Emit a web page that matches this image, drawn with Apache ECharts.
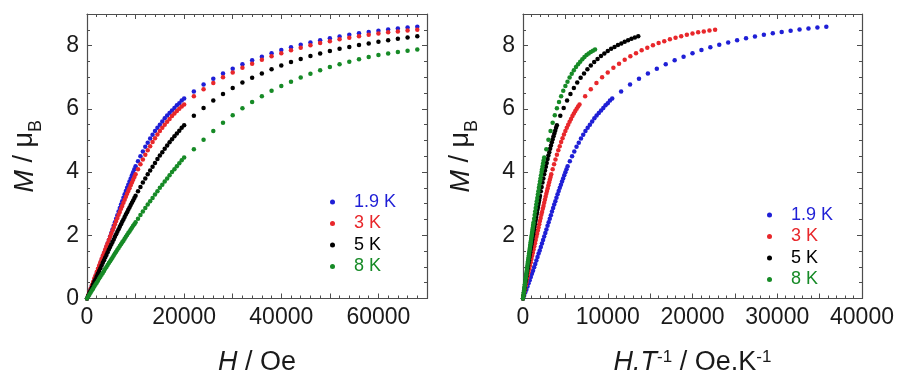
<!DOCTYPE html>
<html>
<head>
<meta charset="utf-8">
<script src="https://cdn.jsdelivr.net/npm/echarts@6/dist/echarts.min.js"></script>
<style>
html,body{margin:0;padding:0;background:#fff;}
#chart{width:899px;height:381px;}
</style>
</head>
<body>
<div id="chart"></div>
<script>
// Applied field H (Oe)
const hField = [0,250,500,750,1000,1250,1500,1750,2000,2250,2500,2750,3000,3250,3500,3750,4000,4250,4500,4750,5000,5250,5500,5750,6000,6250,6500,6750,7000,7250,7500,7750,8000,8250,8500,8750,9000,9250,9500,9750,10000,
  10500,11000,11500,12000,12500,13000,13500,14000,14500,15000,15500,16000,16500,17000,17500,18000,18500,19000,19500,20000,
  22000,24000,26000,28000,30000,32000,34000,36000,38000,40000,42000,44000,46000,48000,50000,52000,54000,56000,58000,60000,62000,64000,66000,68000];

const temperatures = [1.9, 3, 5, 8];
const seriesNames = ['1.9 K', '3 K', '5 K', '8 K'];
const seriesColors = ['#1f1fd6', '#e8272b', '#000000', '#168a26'];

// Magnetization M (μB)
const m19 = [0,0.09,0.19,0.28,0.38,0.48,0.58,0.68,0.78,0.88,0.99,1.09,1.2,1.31,1.42,1.52,1.63,1.74,1.85,1.96,2.07,2.18,2.3,2.41,2.52,2.63,2.75,2.86,2.97,3.08,3.19,3.3,3.4,3.5,3.6,3.7,3.8,3.9,3.99,4.09,4.18,
  4.34,4.5,4.65,4.8,4.93,5.06,5.18,5.3,5.4,5.5,5.6,5.7,5.79,5.87,5.95,6.03,6.11,6.18,6.26,6.33,
  6.55,6.77,6.95,7.12,7.27,7.41,7.54,7.65,7.76,7.86,7.95,8.03,8.10,8.17,8.23,8.29,8.34,8.39,8.43,8.47,8.51,8.54,8.57,8.60];
const m3 = [0,0.1,0.21,0.31,0.42,0.52,0.63,0.73,0.84,0.94,1.04,1.15,1.25,1.35,1.45,1.55,1.65,1.75,1.85,1.95,2.05,2.15,2.25,2.35,2.45,2.55,2.65,2.74,2.84,2.93,3.03,3.12,3.22,3.31,3.4,3.49,3.58,3.67,3.76,3.84,3.93,
  4.09,4.25,4.4,4.55,4.69,4.82,4.95,5.07,5.19,5.3,5.4,5.5,5.59,5.68,5.77,5.85,5.93,6.0,6.07,6.14,
  6.40,6.62,6.82,7.00,7.15,7.30,7.43,7.55,7.66,7.76,7.85,7.93,8.01,8.08,8.14,8.20,8.25,8.30,8.34,8.38,8.42,8.45,8.48,8.50];
const m5 = [0,0.09,0.18,0.26,0.35,0.44,0.53,0.61,0.7,0.79,0.87,0.96,1.04,1.13,1.21,1.3,1.38,1.46,1.55,1.63,1.71,1.79,1.87,1.95,2.03,2.11,2.19,2.27,2.35,2.43,2.5,2.58,2.66,2.73,2.81,2.88,2.96,3.03,3.1,3.18,3.25,
  3.39,3.53,3.67,3.8,3.93,4.05,4.17,4.29,4.41,4.52,4.63,4.74,4.84,4.94,5.04,5.13,5.22,5.31,5.4,5.48,
  5.78,6.03,6.26,6.47,6.66,6.83,6.98,7.12,7.25,7.37,7.48,7.58,7.67,7.75,7.83,7.90,7.96,8.02,8.07,8.12,8.17,8.22,8.26,8.30];
const m8 = [0,0.06,0.13,0.19,0.25,0.31,0.38,0.44,0.5,0.56,0.63,0.69,0.75,0.81,0.87,0.94,1.0,1.06,1.12,1.18,1.24,1.3,1.36,1.42,1.48,1.54,1.6,1.66,1.72,1.78,1.83,1.89,1.95,2.01,2.07,2.12,2.18,2.24,2.3,2.35,2.41,
  2.52,2.64,2.75,2.86,2.97,3.08,3.18,3.29,3.39,3.5,3.6,3.7,3.8,3.9,4.0,4.09,4.18,4.28,4.37,4.46,
  4.72,5.02,5.30,5.56,5.80,6.02,6.22,6.40,6.57,6.72,6.86,6.99,7.11,7.22,7.32,7.41,7.49,7.57,7.64,7.70,7.75,7.80,7.84,7.88];

const mSets = [m19, m3, m5, m8];

// Axis ranges / tick labels
const leftXTicks = [0, 20000, 40000, 60000];
const rightXTicks = [0, 10000, 20000, 30000, 40000];
const leftYTicks = [0, 2, 4, 6, 8];
const rightYTicks = [2, 4, 6, 8];

const FONT = '"Liberation Sans", Arial, sans-serif';
const AX = '#4d4d4d';
const TXT = '#1a1a1a';

function xAxisCfg(grid, max, interval, labels, top) {
  return {
    type: 'value', gridIndex: grid, position: top ? 'top' : 'bottom',
    min: 0, max: max, interval: interval,
    axisLine: { show: true, onZero: false, lineStyle: { color: AX, width: 1.2 } },
    axisTick: { show: true, inside: true, length: 5, lineStyle: { color: AX } },
    minorTick: { show: true, splitNumber: 5, length: 3, lineStyle: { color: AX } },
    splitLine: { show: false }, minorSplitLine: { show: false },
    axisLabel: {
      show: !top, margin: 8, fontFamily: FONT, fontSize: 23, color: TXT,
      showMaxLabel: true, showMinLabel: true,
      formatter: v => labels.indexOf(v) >= 0 ? String(v) : ''
    }
  };
}
function yAxisCfg(grid, labels, right) {
  return {
    type: 'value', gridIndex: grid, position: right ? 'right' : 'left',
    min: 0, max: 9, interval: 2,
    axisLine: { show: true, onZero: false, lineStyle: { color: AX, width: 1.2 } },
    axisTick: { show: true, inside: true, length: 5, lineStyle: { color: AX } },
    minorTick: { show: true, splitNumber: 4, length: 3, lineStyle: { color: AX } },
    splitLine: { show: false }, minorSplitLine: { show: false },
    axisLabel: {
      show: !right, margin: 8, fontFamily: FONT, fontSize: 23, color: TXT,
      formatter: v => labels.indexOf(v) >= 0 ? String(v) : ''
    }
  };
}

const nameRich = {
  i: { fontFamily: FONT, fontSize: 27, fontStyle: 'italic', color: TXT, lineHeight: 40, verticalAlign: 'middle' },
  n: { fontFamily: FONT, fontSize: 27, color: TXT, lineHeight: 40, verticalAlign: 'middle' },
  s: { fontFamily: FONT, fontSize: 18, color: TXT, lineHeight: 40, verticalAlign: 'bottom' },
  p: { fontFamily: FONT, fontSize: 17, color: TXT, lineHeight: 40, verticalAlign: 'top', padding: [6, 0, 0, 0] }
};

const xAxes = [
  Object.assign(xAxisCfg(0, 70000, 10000, leftXTicks, false), {
    name: '{i|H}{n| / Oe}', nameLocation: 'middle', nameGap: 44,
    nameTextStyle: { rich: nameRich }
  }),
  xAxisCfg(0, 70000, 10000, [], true),
  Object.assign(xAxisCfg(1, 40000, 5000, rightXTicks, false), {
    name: '{i|H.T}{p|-1}{n| / Oe.K}{p|-1}', nameLocation: 'middle', nameGap: 44,
    nameTextStyle: { rich: nameRich }
  }),
  xAxisCfg(1, 40000, 5000, [], true)
];
const yAxes = [
  Object.assign(yAxisCfg(0, leftYTicks, false), {
    name: '{i|M}{n| / μ}{s|B}', nameLocation: 'middle', nameGap: 42, nameRotate: 90,
    nameTextStyle: { rich: nameRich }
  }),
  yAxisCfg(0, [], true),
  Object.assign(yAxisCfg(1, rightYTicks, false), {
    name: '{i|M}{n| / μ}{s|B}', nameLocation: 'middle', nameGap: 42, nameRotate: 90,
    nameTextStyle: { rich: nameRich }
  }),
  yAxisCfg(1, [], true)
];

const series = [];
mSets.forEach((m, k) => {
  series.push({
    type: 'scatter', name: seriesNames[k], xAxisIndex: 0, yAxisIndex: 0,
    symbol: 'circle', symbolSize: 4.5, itemStyle: { color: seriesColors[k], opacity: 1 },
    data: hField.map((h, j) => [h, m[j]])
  });
});
mSets.forEach((m, k) => {
  series.push({
    type: 'scatter', name: seriesNames[k], xAxisIndex: 2, yAxisIndex: 2,
    symbol: 'circle', symbolSize: 4.5, itemStyle: { color: seriesColors[k], opacity: 1 },
    data: hField.map((h, j) => [h / temperatures[k], m[j]])
  });
});

function legendCfg(left, top) {
  return {
    orient: 'vertical', left: left, top: top, padding: 0,
    icon: 'circle', itemWidth: 5, itemHeight: 5, itemGap: 1.5,
    selectedMode: false,
    itemStyle: { opacity: 1 },
    textStyle: { fontFamily: FONT, fontSize: 18, lineHeight: 20, padding: [0, 0, 0, 14] },
    data: seriesNames.map((n, k) => ({ name: n, textStyle: { color: seriesColors[k] } }))
  };
}

const chart = echarts.init(document.getElementById('chart'), null, { renderer: 'canvas' });
chart.setOption({
  animation: false,
  backgroundColor: '#ffffff',
  grid: [
    { left: 87, top: 14, width: 340, height: 299 },
    { left: 523, top: 14, width: 339, height: 299 }
  ],
  xAxis: xAxes,
  yAxis: yAxes,
  legend: [legendCfg(330, 192), legendCfg(767, 205)],
  series: series
});
</script>
</body>
</html>
